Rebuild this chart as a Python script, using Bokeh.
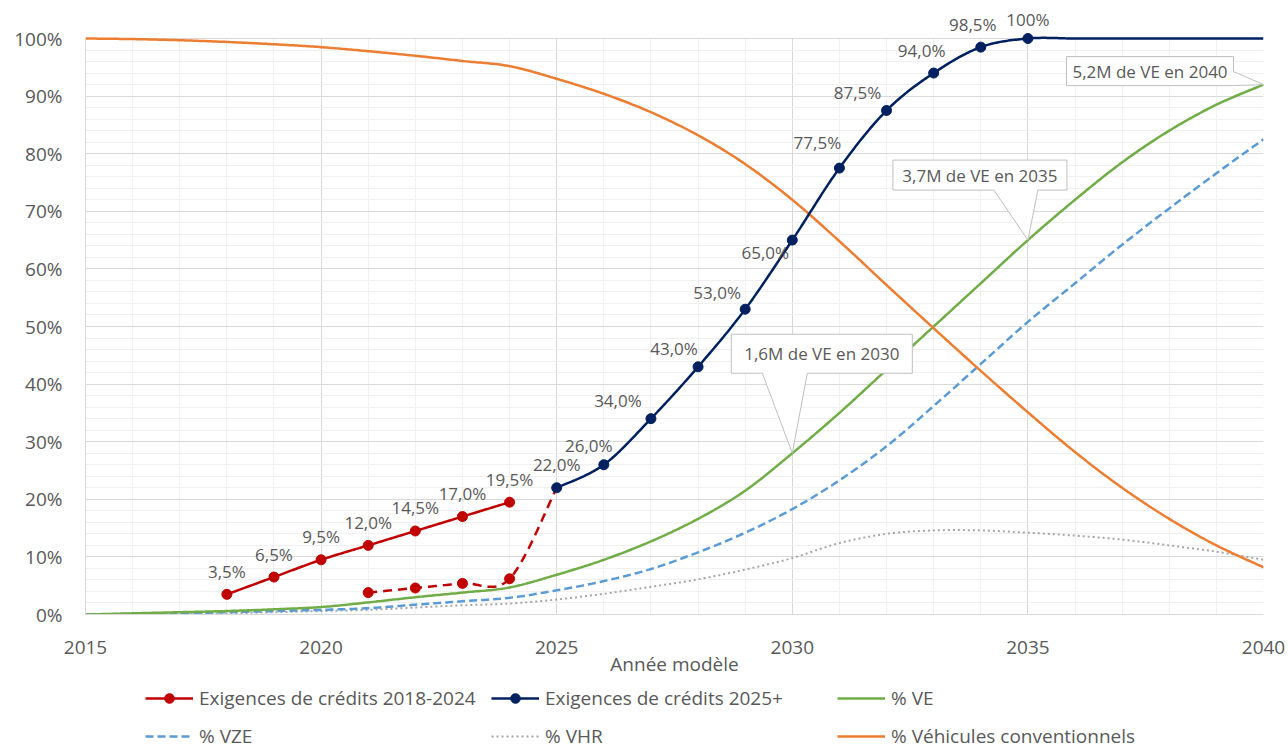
import numpy as np
from bokeh.plotting import figure
from bokeh.layouts import column
from bokeh.models import (ColumnDataSource, LabelSet, Legend, LegendItem, Range1d,
                          FixedTicker, PrintfTickFormatter)
from bokeh.core.properties import value
from bokeh.embed import file_html
from bokeh.resources import INLINE

# ---------------- data ----------------
years = list(range(2015, 2041))
pct_ve = [0.0, 0.2, 0.4, 0.6, 0.9, 1.3, 2.1, 3.0, 3.8, 4.7, 6.9, 9.5, 12.7, 16.6, 21.5,
          28.0, 35.0, 42.5, 50.0, 57.5, 65.0, 72.0, 78.5, 84.0, 88.5, 92.0]
pct_vze = [0.0, 0.1, 0.2, 0.4, 0.6, 0.8, 1.1, 1.7, 2.3, 2.9, 4.2, 5.8, 7.9, 10.8, 14.2,
           18.3, 23.3, 29.2, 36.2, 43.5, 50.8, 57.5, 64.2, 70.5, 76.6, 82.5]
pct_vhr = [0.0, 0.05, 0.1, 0.2, 0.4, 0.6, 0.8, 1.2, 1.6, 1.9, 2.6, 3.6, 4.8, 6.1, 7.8,
           9.8, 12.4, 14.0, 14.6, 14.6, 14.2, 13.7, 13.0, 12.0, 10.9, 9.5]
pct_conv = [100.0, 99.9, 99.7, 99.4, 99.0, 98.5, 97.8, 97.0, 96.1, 95.2, 93.0, 90.4, 87.2,
            83.2, 78.2, 72.0, 64.8, 57.2, 49.7, 42.3, 35.1, 28.2, 22.0, 16.6, 12.0, 8.2]

credits_1824_years = [2018, 2019, 2020, 2021, 2022, 2023, 2024]
credits_1824 = [3.5, 6.5, 9.5, 12.0, 14.5, 17.0, 19.5]
credits_1824_labels = ["3,5%", "6,5%", "9,5%", "12,0%", "14,5%", "17,0%", "19,5%"]

bridge_years = [2021, 2022, 2023, 2024, 2025]
bridge_vals = [3.8, 4.6, 5.4, 6.2, 22.0]

credits_2025_years = list(range(2025, 2041))
credits_2025 = [22.0, 26.0, 34.0, 43.0, 53.0, 65.0, 77.5, 87.5, 94.0, 98.5, 100.0,
                100.0, 100.0, 100.0, 100.0, 100.0]
credits_2025_labels = ["22,0%", "26,0%", "34,0%", "43,0%", "53,0%", "65,0%", "77,5%",
                       "87,5%", "94,0%", "98,5%", "100%"]

callout_years = [2030, 2035, 2040]
callout_texts = ["1,6M de VE en 2030", "3,7M de VE en 2035", "5,2M de VE en 2040"]

legend_labels = ["Exigences de crédits 2018-2024", "Exigences de crédits 2025+", "% VE",
                 "% VZE", "% VHR", "% Véhicules conventionnels"]

x_major_ticks = list(range(2015, 2041, 5))
x_minor_ticks = list(range(2015, 2041, 1))
y_major_ticks = list(range(0, 101, 10))
y_minor_ticks = list(range(0, 101, 2))

# ---------------- styling / layout ----------------
W = 1288
H_MAIN, H_LEG = 682, 67
B_LEFT, B_RIGHT, B_TOP, B_BOTTOM = 85, 25, 8, 68
X0, X1 = 2015, 2040
FRAME_W = W - B_LEFT - B_RIGHT
FRAME_H = H_MAIN - B_TOP - B_BOTTOM
PX_X = FRAME_W / (X1 - X0)
PX_Y = 5.76
Y0 = 0
Y1 = FRAME_H / PX_Y

TXT = "#595959"
FONT = "Open Sans"
RED, NAVY, GREEN, BLUE, GREY, ORANGE = "#C00000", "#002060", "#70AD47", "#5B9BD5", "#A5A5A5", "#ED7D31"
LW = 2.5
st_red = dict(line_color=RED, line_width=LW)
st_navy = dict(line_color=NAVY, line_width=LW)
st_ve = dict(line_color=GREEN, line_width=LW)
st_vze = dict(line_color=BLUE, line_width=LW, line_dash="8 4")
st_vhr = dict(line_color=GREY, line_width=2, line_dash="2 3")
st_conv = dict(line_color=ORANGE, line_width=LW)
st_bridge = dict(line_color=RED, line_width=LW, line_dash="9 6")

red_label_offsets = [(0, 23)] * 7
navy_label_offsets = [(0, 23), (-15, 19), (-33, 18), (-24, 18), (-28, 17), (-27, -12),
                      (-22, 26), (-29, 18), (-12, 23), (-8, 23), (0, 19)]

# callout geometry in screen px relative to the tip (y down)
callout_shapes = [
    dict(L=-61, R=120, T=-119, B=-80, kind="bottom", w1=-30, w2=15),
    dict(L=-135, R=39, T=-80, B=-50, kind="bottom", w1=-34, w2=10),
    dict(L=-197, R=-30, T=-28, B=1, kind="right", w1=-13, w2=1),
]


def smooth(xs, ys, n=24):
    """Excel-like smoothed line (cubic Bezier, 1/6 tangents) for rendering."""
    P = np.column_stack([np.asarray(xs, float), np.asarray(ys, float)])
    m = len(P)
    if m < 3:
        return list(P[:, 0]), list(P[:, 1])
    ox, oy = [], []
    for i in range(m - 1):
        p0 = P[i - 1] if i > 0 else P[i]
        p1 = P[i]
        p2 = P[i + 1]
        p3 = P[i + 2] if i + 2 < m else P[i + 1]
        c1 = p1 + (p2 - p0) / 6.0
        c2 = p2 - (p3 - p1) / 6.0
        t = np.linspace(0, 1, n, endpoint=(i == m - 2))[:, None]
        b = ((1 - t) ** 3) * p1 + 3 * ((1 - t) ** 2) * t * c1 + 3 * (1 - t) * t ** 2 * c2 + t ** 3 * p2
        ox.extend(b[:, 0]); oy.extend(b[:, 1])
    return ox, oy


p = figure(width=W, height=H_MAIN, output_backend="svg", toolbar_location=None,
           x_range=Range1d(X0, X1), y_range=Range1d(Y0, Y1),
           min_border_left=B_LEFT, min_border_right=B_RIGHT,
           min_border_top=B_TOP, min_border_bottom=B_BOTTOM)
p.outline_line_color = None
p.background_fill_color = "white"
p.border_fill_color = "white"

xt = FixedTicker(ticks=x_major_ticks, minor_ticks=x_minor_ticks)
yt = FixedTicker(ticks=y_major_ticks, minor_ticks=y_minor_ticks)
p.xaxis.ticker = xt
p.yaxis.ticker = yt
p.xgrid.ticker = xt
p.ygrid.ticker = yt
for g in (p.xgrid, p.ygrid):
    g.grid_line_color = "#D9D9D9"
    g.grid_line_width = 1
    g.minor_grid_line_color = "#F0F0F0"
    g.minor_grid_line_width = 1
if "cross_bounds" in p.xgrid[0].properties():
    p.xgrid[0].cross_bounds = (0, 100)

p.yaxis.formatter = PrintfTickFormatter(format="%d%%")
p.yaxis.bounds = (0, 100)
for ax in (p.xaxis[0], p.yaxis[0]):
    ax.axis_line_color = "#D9D9D9"
    ax.axis_line_width = 1
    ax.major_tick_line_color = None
    ax.minor_tick_line_color = None
    ax.major_label_text_font = FONT
    ax.major_label_text_font_size = "19px"
    ax.major_label_text_color = TXT
p.yaxis.major_label_standoff = 17
p.xaxis.major_label_standoff = 20
p.xaxis.axis_label = "Année modèle"
p.xaxis.axis_label_text_font = FONT
p.xaxis.axis_label_text_font_size = "19px"
p.xaxis.axis_label_text_font_style = "normal"
p.xaxis.axis_label_text_color = TXT
p.xaxis.axis_label_standoff = -6

# ---------------- series ----------------
sx, sy = smooth(years, pct_vhr)
p.line(sx, sy, **st_vhr)
sx, sy = smooth(years, pct_vze)
p.line(sx, sy, **st_vze)
sx, sy = smooth(years, pct_ve)
p.line(sx, sy, **st_ve)
sx, sy = smooth(years, pct_conv)
p.line(sx, sy, **st_conv)

sx, sy = smooth(bridge_years, bridge_vals)
p.line(sx, sy, **st_bridge)
p.scatter(bridge_years[:-1], bridge_vals[:-1], size=10, color=RED)

sx, sy = smooth(credits_1824_years, credits_1824)
p.line(sx, sy, **st_red)
p.scatter(credits_1824_years, credits_1824, size=10, color=RED)

sx, sy = smooth(credits_2025_years, credits_2025)
p.line(sx, sy, **st_navy)
nl = len(credits_2025_labels)
p.scatter(credits_2025_years[:nl], credits_2025[:nl], size=10, color=NAVY)

# ---------------- data labels ----------------
lab_src = ColumnDataSource(dict(
    x=credits_1824_years + credits_2025_years[:nl],
    y=credits_1824 + credits_2025[:nl],
    text=credits_1824_labels + credits_2025_labels,
    dx=[o[0] for o in red_label_offsets + navy_label_offsets],
    dy=[o[1] for o in red_label_offsets + navy_label_offsets],
))
p.add_layout(LabelSet(x="x", y="y", text="text", x_offset="dx", y_offset="dy", source=lab_src,
                      text_align="center", text_baseline="middle", text_color=TXT,
                      text_font=value(FONT), text_font_size="17px"))

# ---------------- callouts ----------------
for yr, txt, shp in zip(callout_years, callout_texts, callout_shapes):
    tx = yr
    ty = pct_ve[years.index(yr)]
    L, R, T, B = shp["L"], shp["R"], shp["T"], shp["B"]
    if shp["kind"] == "bottom":
        pts = [(L, T), (R, T), (R, B), (shp["w2"], B), (0, 0), (shp["w1"], B), (L, B)]
    else:
        pts = [(L, T), (R, T), (R, shp["w1"]), (0, 0), (R, B), (L, B)]
    xs = [tx + dx / PX_X for dx, dy in pts]
    ys = [ty - dy / PX_Y for dx, dy in pts]
    p.patch(xs, ys, fill_color="white", line_color="#BFBFBF", line_width=1)
    cx = tx + (L + R) / 2 / PX_X
    cy = ty - (T + B) / 2 / PX_Y
    p.text([cx], [cy], text=[txt], text_align="center", text_baseline="middle",
           text_color=TXT, text_font=value(FONT), text_font_size="17px")

# ---------------- legend (own strip below the chart) ----------------
q = figure(width=W, height=H_LEG, output_backend="svg", toolbar_location=None,
           x_range=Range1d(0, 1), y_range=Range1d(0, 1), min_border=0)
q.axis.visible = False
q.grid.visible = False
q.outline_line_color = None
q.background_fill_color = "white"
q.border_fill_color = "white"
off = [-10]
lg_red = [q.line(off, off, **st_red), q.scatter(off, off, size=9, color=RED)]
lg_navy = [q.line(off, off, **st_navy), q.scatter(off, off, size=9, color=NAVY)]
lg_ve = [q.line(off, off, **st_ve)]
lg_vze = [q.line(off, off, **st_vze)]
lg_vhr = [q.line(off, off, **st_vhr)]
lg_conv = [q.line(off, off, **st_conv)]
legend = Legend(items=[LegendItem(label=lab, renderers=rs) for lab, rs in zip(
    legend_labels, [lg_red, lg_navy, lg_ve, lg_vze, lg_vhr, lg_conv])],
    orientation="horizontal", ncols=3, location=(60, 0))
legend.label_text_font = FONT
legend.label_text_font_size = "19px"
legend.label_text_color = TXT
legend.glyph_width = 48
legend.glyph_height = 24
legend.label_height = 24
legend.label_width = 280
legend.label_standoff = 6
legend.spacing = 12
legend.padding = 0
legend.margin = 0
legend.border_line_color = None
legend.background_fill_alpha = 0
q.add_layout(legend, "center")

layout = column(p, q, spacing=0)
open("out.html", "w").write(file_html(layout, INLINE))
